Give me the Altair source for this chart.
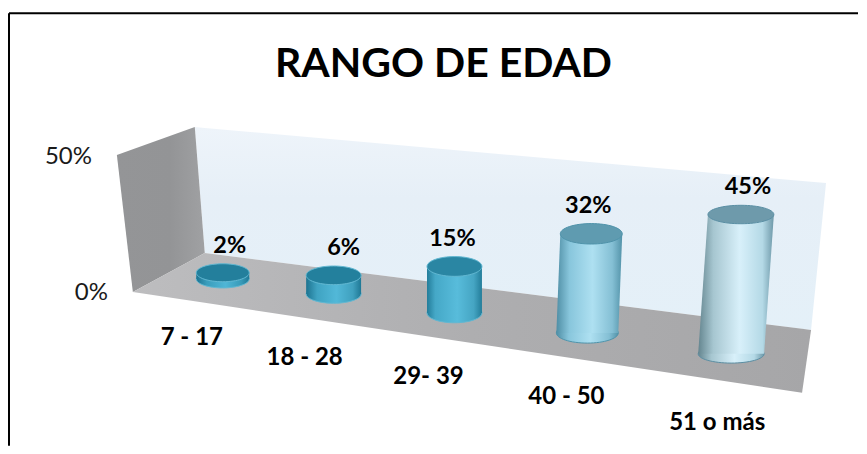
import altair as alt
import pandas as pd

# ---- chart values ----
categories = ["7 - 17", "18 - 28", "29- 39", "40 - 50", "51 o más"]
values = [2, 6, 15, 32, 45]
value_labels = ["2%", "6%", "15%", "32%", "45%"]
axis_ticks = ["50%", "0%"]
title_text = "RANGO DE EDAD"

# ---- 3-D projection of the scene onto the page ----
PX_PER_PCT = 3.1
base_x = [223, 334, 455, 588, 732]
base_y = [279, 294, 313, 333, 354]
half_w = [26.5, 27.5, 27.5, 31, 33]
tilt = [0, 0, 0, 0.04, 0.07]
ell_ratio = [0.34, 0.34, 0.36, 0.33, 0.28]
label_dx = [7, 10, -2, -3, 7]
cat_dx = [-31, -29, -26, -21, -14]
cat_dy = [59, 64, 64, 64, 69]

W, H = 851, 438
X = alt.Scale(domain=[8, 8 + W], range=[0, W], zero=False, nice=False)
Y = alt.Scale(domain=[8, 8 + H], range=[0, H], zero=False, nice=False)


def xch(f="x"):
    return alt.X(f"{f}:Q", scale=X, axis=None)


def ych(f="y"):
    return alt.Y(f"{f}:Q", scale=Y, axis=None)


def poly_area(pts, fill, opacity=1.0):
    """A convex polygon as an area: upper and lower edge at each vertex x."""
    n = len(pts)
    xs = sorted({p[0] for p in pts})
    rows = []
    for x in xs:
        ys = []
        for i in range(n):
            (x0, y0), (x1, y1) = pts[i], pts[(i + 1) % n]
            if min(x0, x1) <= x <= max(x0, x1):
                if x0 == x1:
                    ys += [y0, y1]
                else:
                    ys.append(y0 + (y1 - y0) * (x - x0) / (x1 - x0))
        rows.append({"x": x, "y": min(ys), "y2": max(ys)})
    return (
        alt.Chart(pd.DataFrame(rows))
        .mark_area(color=fill, opacity=opacity, interpolate="linear")
        .encode(x=xch(), y=ych(), y2="y2:Q")
    )


def grad(stops, x1=0, y1=0, x2=1, y2=0):
    return alt.Gradient(
        gradient="linear",
        x1=x1, y1=y1, x2=x2, y2=y2,
        stops=[alt.GradientStop(offset=o, color=c) for o, c in stops],
    )


left_wall = poly_area(
    [(117, 155), (195, 127), (205, 253), (133, 292)],
    grad([(0, "#949597"), (0.6, "#939496"), (1, "#a0a1a3")]),
)
back_wall = poly_area(
    [(195, 127), (827, 183), (812, 330), (205, 253)],
    grad([(0, "#eef4fa"), (0.35, "#e6eff7"), (1, "#e4f0f8")], x1=0, y1=0, x2=0, y2=1),
)
floor = poly_area(
    [(133, 292), (205, 253), (812, 330), (803, 393)],
    grad([(0, "#bdbdbf"), (0.5, "#aeaeb0"), (1, "#a6a6a8")]),
)

body_grads = [
    [(0, "#1d7390"), (0.2, "#3a9dbc"), (0.55, "#4fb6d6"), (0.85, "#389ab8"), (1, "#1f7895")],
    [(0, "#1d7390"), (0.2, "#3fa3c2"), (0.55, "#52b8d8"), (0.85, "#3fa0be"), (1, "#1f7895")],
    [(0, "#237d9a"), (0.15, "#45a8c7"), (0.55, "#58bcdb"), (0.85, "#45a5c3"), (1, "#237d9a")],
    [(0, "#4f8ea5"), (0.2, "#88c6dc"), (0.55, "#aee0f1"), (0.85, "#84bfd4"), (1, "#5393a9")],
    [(0, "#64858f"), (0.2, "#a6c6d0"), (0.55, "#d8f0fa"), (0.85, "#b4d9e6"), (1, "#6d98a8")],
]
top_fill = ["#237f9c", "#23809d", "#2a86a3", "#5f9bb0", "#6e9aab"]
halo = ["#62b8d2", "#62b8d2", "#62b8d2", "#4f93aa", "#5a8fa4"]

layers = [back_wall, left_wall, floor]
for i, v in enumerate(values):
    h = PX_PER_PCT * v
    bx, by, hw = base_x[i], base_y[i], half_w[i]
    tx, ty = bx + tilt[i] * h, by - h
    path = f"M-1,0A1,{ell_ratio[i]} 0 1,1 1,0A1,{ell_ratio[i]} 0 1,1 -1,0Z"
    fill = grad(body_grads[i])
    size = (2 * hw) ** 2
    layers.append(
        alt.Chart(pd.DataFrame([{"x": bx, "y": by}]))
        .mark_point(shape=path, size=size, filled=True, fill=fill, opacity=1, stroke=halo[i], strokeWidth=1)
        .encode(x=xch(), y=ych())
    )
    layers.append(
        alt.Chart(pd.DataFrame([
            {"y": ty, "x": tx - hw, "x2": tx + hw},
            {"y": by, "x": bx - hw, "x2": bx + hw},
        ]))
        .mark_area(orient="horizontal", color=fill, interpolate="linear")
        .encode(y=ych(), x=xch(), x2="x2:Q")
    )
    layers.append(
        alt.Chart(pd.DataFrame([{"x": tx, "y": ty}]))
        .mark_point(shape=path, size=size, filled=True, fill=top_fill[i], opacity=1, stroke=halo[i], strokeWidth=1)
        .encode(x=xch(), y=ych())
    )

FONT = "Lato"
labels_df = pd.DataFrame({
    "t": value_labels,
    "x": [base_x[i] + tilt[i] * PX_PER_PCT * values[i] + label_dx[i] for i in range(5)],
    "y": [base_y[i] - PX_PER_PCT * values[i] - half_w[i] * ell_ratio[i] - 18 for i in range(5)],
})
layers.append(
    alt.Chart(labels_df)
    .mark_text(font=FONT, fontWeight="bold", fontSize=23.5, color="#000000")
    .encode(x=xch(), y=ych(), text="t:N")
)
cats_df = pd.DataFrame({
    "t": categories,
    "x": [base_x[i] + cat_dx[i] for i in range(5)],
    "y": [base_y[i] + cat_dy[i] for i in range(5)],
})
layers.append(
    alt.Chart(cats_df)
    .mark_text(font=FONT, fontWeight="bold", fontSize=24, color="#000000")
    .encode(x=xch(), y=ych(), text="t:N")
)
ticks_df = pd.DataFrame({"t": axis_ticks, "x": [92, 108], "y": [157, 293]})
layers.append(
    alt.Chart(ticks_df)
    .mark_text(font=FONT, fontSize=24, align="right", color="#1a1a1a")
    .encode(x=xch(), y=ych(), text="t:N")
)
layers.append(
    alt.Chart(pd.DataFrame({"t": [title_text], "x": [444], "y": [65]}))
    .mark_text(font=FONT, fontWeight="bold", fontSize=41, color="#000000")
    .encode(x=xch(), y=ych(), text="t:N")
)
# frame: only the top and left edges fall inside the picture
layers.append(
    alt.Chart(pd.DataFrame({"x": [9], "x2": [859], "y": [13]}))
    .mark_rule(color="#000000", strokeWidth=2)
    .encode(x=xch(), x2="x2:Q", y=ych())
)
layers.append(
    alt.Chart(pd.DataFrame({"x": [9], "y": [13], "y2": [446]}))
    .mark_rule(color="#000000", strokeWidth=2)
    .encode(x=xch(), y=ych(), y2="y2:Q")
)

chart = (
    alt.layer(*layers)
    .properties(width=W, height=H, padding=0, background="white")
    .configure_view(stroke=None)
)
chart.save("out.html", embed_options={"renderer": "svg", "actions": False})
